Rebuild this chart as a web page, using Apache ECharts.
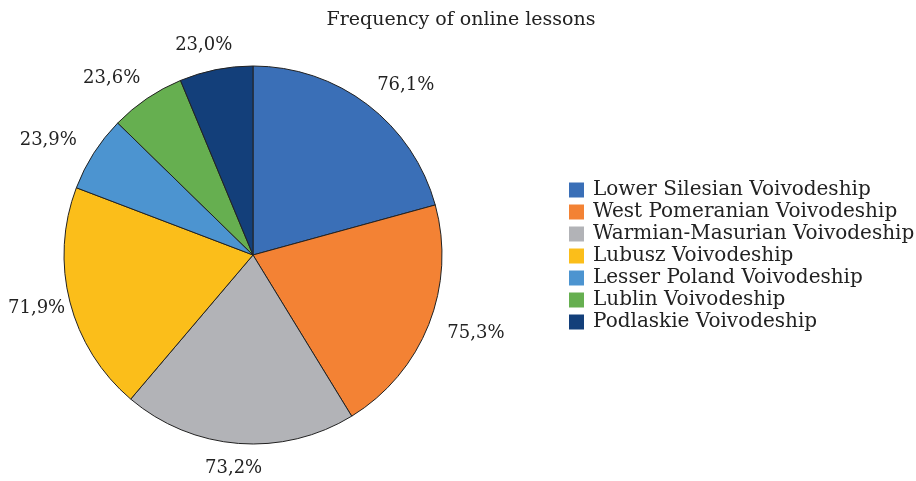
<!DOCTYPE html>
<html><head><meta charset="utf-8">
<script src="https://cdn.jsdelivr.net/npm/echarts@6/dist/echarts.min.js"></script>
<style>html,body{margin:0;padding:0;background:#fff}#c{width:916px;height:481px}</style>
</head><body><div id="c"></div>
<script>
const categories = ["Lower Silesian Voivodeship","West Pomeranian Voivodeship","Warmian-Masurian Voivodeship","Lubusz Voivodeship","Lesser Poland Voivodeship","Lublin Voivodeship","Podlaskie Voivodeship"];
const values = [76.1, 75.3, 73.2, 71.9, 23.9, 23.6, 23.0];
const colors = ["#3A6FB7","#F38234","#B2B3B7","#FBBE1A","#4C94D0","#66AF50","#133F7A"];
const FONT = "DejaVu Serif";
const CX = 253, CY = 255;
const chart = echarts.init(document.getElementById('c'), null, {renderer:'canvas'});
chart.setOption({
  animation:false,
  backgroundColor:'#fff',
  title:{text:'Frequency of online lessons', left:456, top:6, textAlign:'center',
    textStyle:{fontFamily:FONT, fontSize:19, fontWeight:'normal', color:'#222'}},
  legend:{orient:'vertical', left:569, top:179, padding:0, itemWidth:15, itemHeight:15, itemGap:0,
    icon:'rect', data:categories, itemStyle:{borderWidth:0},
    textStyle:{fontFamily:FONT, fontSize:20, color:'#222', lineHeight:22, padding:[0,0,0,4]}},
  series:[{
    type:'pie', center:[CX,CY], radius:189, startAngle:90, clockwise:true,
    itemStyle:{borderColor:'#222', borderWidth:1},
    label:{show:true, position:'outside', fontFamily:FONT, fontSize:18, color:'#222', overflow:'none',
      formatter:p=>p.value.toFixed(1).replace('.',',')+'%'},
    labelLine:{show:false, length:20, length2:0},
    labelLayout:function(p){
      const pts = p.labelLinePoints;
      if(!pts) return {};
      const ax = pts[1][0], ay = pts[1][1];
      const dx = ax - CX, dy = ay - CY, d = Math.hypot(dx, dy);
      const s = dx / d, c = dy / d;
      const w = p.labelRect.width, h = p.labelRect.height;
      const fx = Math.max(-1, Math.min(1, s * 1.5));
      let x = ax + fx * w / 2;
      x = Math.max(8 + w / 2, x);
      return {x: x, y: ay + c * h / 4, align:'center', verticalAlign:'middle'};
    },
    data: categories.map((c,i)=>({name:c, value:values[i], itemStyle:{color:colors[i]}}))
  }]
});
</script></body></html>
